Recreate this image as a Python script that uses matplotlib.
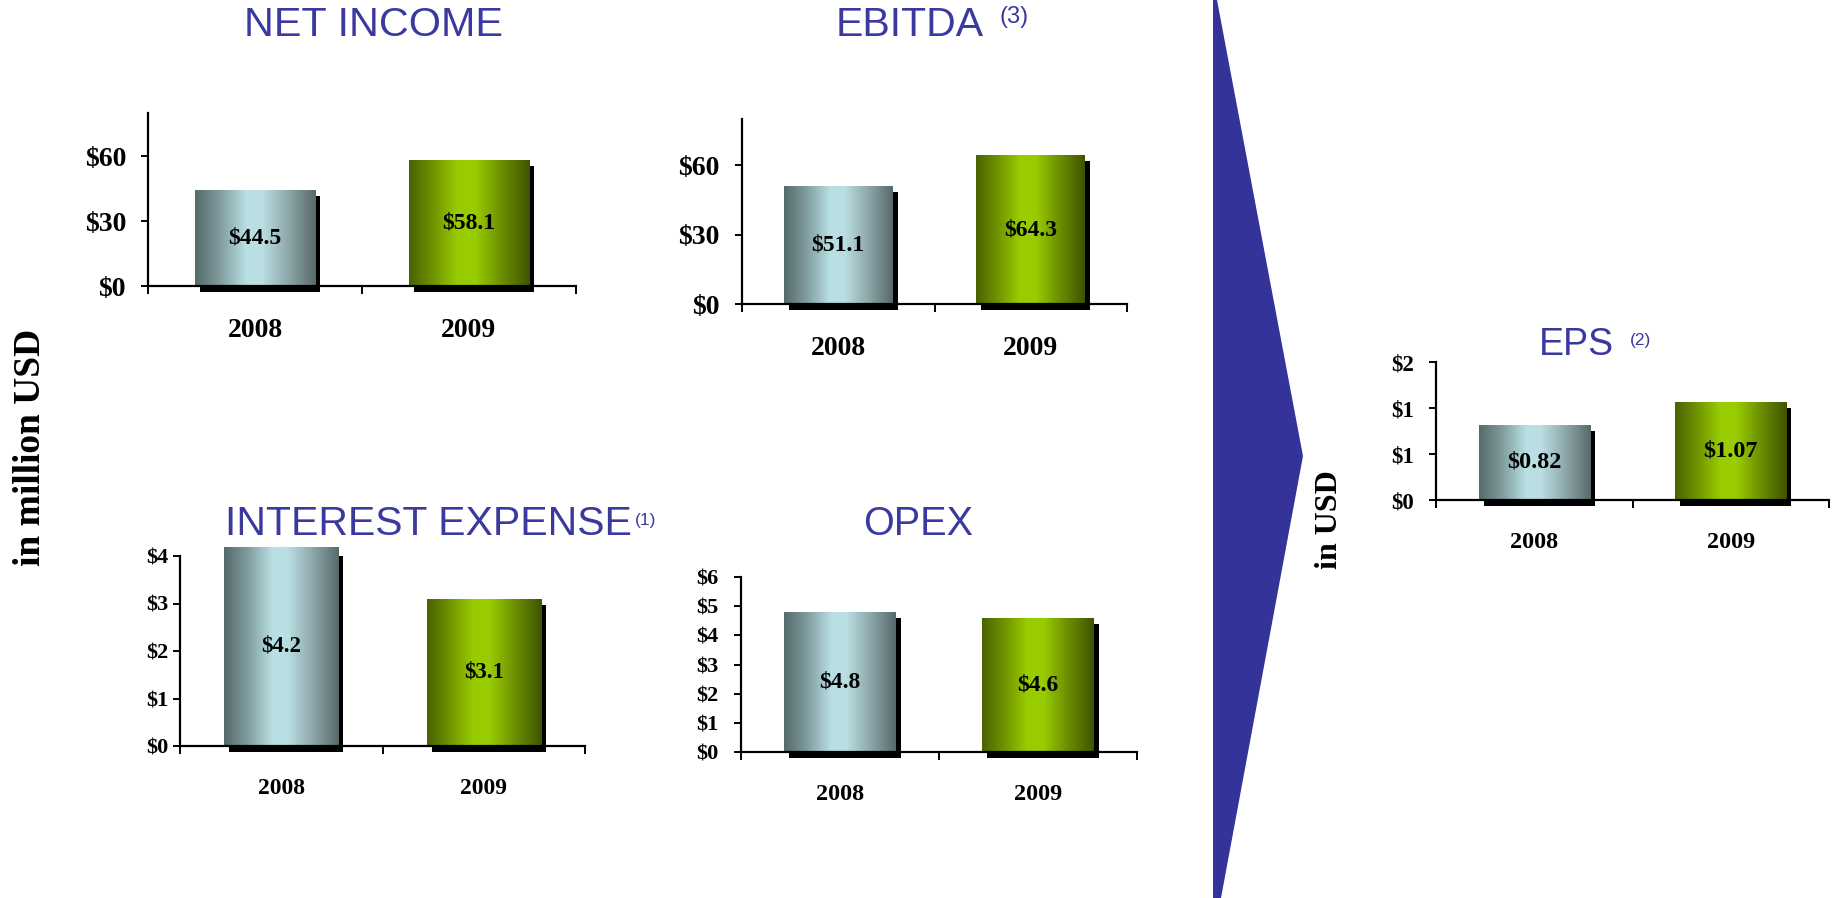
import numpy as np
import matplotlib
matplotlib.use("Agg")
import matplotlib.pyplot as plt
from matplotlib.patches import Rectangle, Polygon
from matplotlib.transforms import ScaledTranslation
from matplotlib.colors import LinearSegmentedColormap
from matplotlib.ticker import FixedLocator, FuncFormatter

# ---------------- data ----------------
years = ["2008", "2009"]
net_income = [44.5, 58.1]
ebitda = [51.1, 64.3]
interest_expense = [4.2, 3.1]
opex = [4.8, 4.6]
eps = [0.82, 1.07]

net_income_ticks = [0, 30, 60]
ebitda_ticks = [0, 30, 60]
interest_ticks = [0, 1, 2, 3, 4]
opex_ticks = [0, 1, 2, 3, 4, 5, 6]
eps_ticks = [0, 0.5, 1.0, 1.5]

# ---------------- style ----------------
W, H, DPI = 1835, 898, 100
SERIF = "Liberation Serif"
SANS = "Liberation Sans"
TITLE_COLOR = "#3a3a9e"
ARROW_COLOR = "#333399"

cmap_2008 = LinearSegmentedColormap.from_list(
    "c2008", [(0.0, "#556a6b"), (0.2, "#7f9a9c"), (0.42, "#b8dfe3"),
              (0.55, "#bbe0e4"), (0.75, "#93adb0"), (1.0, "#586a6b")])
cmap_2009 = LinearSegmentedColormap.from_list(
    "c2009", [(0.0, "#4a6200"), (0.2, "#6f9400"), (0.4, "#98cb00"),
              (0.55, "#99cc00"), (0.75, "#6e9300"), (1.0, "#405400")])
bar_cmaps = [cmap_2008, cmap_2009]

fig = plt.figure(figsize=(W / DPI, H / DPI), dpi=DPI)
fig.patch.set_facecolor("white")

# background overlay for arrow and free text (pixel coordinates)
bg = fig.add_axes([0, 0, 1, 1], zorder=0)
bg.set_xlim(0, W)
bg.set_ylim(H, 0)
bg.axis("off")
bg.add_patch(Polygon([(1213, 0), (1217, 0), (1303, 456), (1221, 898), (1213, 898)],
                     closed=True, facecolor=ARROW_COLOR, edgecolor="none"))
bg.text(30, 447, "in million USD", rotation=90, ha="center", va="center",
        fontfamily=SERIF, fontweight="bold", fontsize=27)
bg.text(1329, 520, "in USD", rotation=90, ha="center", va="center",
        fontfamily=SERIF, fontweight="bold", fontsize=23)


def bar_panel(left, right, top, zero, ymax, values, ticks, fmt_tick, fmt_val,
              ytick_fs, xtick_fs, val_fs, ypad):
    ext = 12  # px below zero line (room for shadow)
    ax = fig.add_axes([left / W, (H - zero - ext) / H, (right - left) / W,
                       (zero + ext - top) / H], zorder=2)
    ax.set_facecolor("none")
    x = np.arange(len(values))
    bars = ax.bar(x, values, width=0.565, color="none", edgecolor="none", zorder=2)
    shadow_tr = ax.transData + ScaledTranslation(5 / DPI, -6 / DPI, fig.dpi_scale_trans)
    grad = np.linspace(0, 1, 256).reshape(1, -1)
    for i, (p, v) in enumerate(zip(bars.patches, values)):
        x0, w, h = p.get_x(), p.get_width(), p.get_height()
        ax.add_patch(Rectangle((x0, 0), w, h, transform=shadow_tr,
                               facecolor="black", edgecolor="none", zorder=1))
        im = ax.imshow(grad, extent=[x0, x0 + w, 0, h], aspect="auto",
                       cmap=bar_cmaps[i], interpolation="bilinear", zorder=2)
        im.set_clip_path(p)
        ax.text(p.get_x() + w / 2, v / 2, fmt_val(v), ha="center", va="center",
                fontfamily=SERIF, fontweight="bold", fontsize=val_fs, zorder=4)
    ax.set_xlim(-0.5, len(values) - 0.5)
    ax.set_ylim(-ymax * ext / (zero - top), ymax)
    for s in ["top", "right"]:
        ax.spines[s].set_visible(False)
    ax.spines["bottom"].set_position(("data", 0))
    ax.spines["left"].set_bounds(0, ymax)
    for s in ["left", "bottom"]:
        ax.spines[s].set_linewidth(1.6)
        ax.spines[s].set_zorder(3)
    ax.yaxis.set_major_locator(FixedLocator(ticks))
    ax.yaxis.set_major_formatter(FuncFormatter(lambda v, pos: fmt_tick(v)))
    ax.tick_params(axis="y", direction="out", length=5, width=1.4, pad=ypad)
    ax.set_xticks(x)
    ax.set_xticklabels(years)
    ax.set_xticks(np.arange(len(values) + 1) - 0.5, minor=True)
    ax.tick_params(axis="x", which="major", length=0, pad=23)
    ax.tick_params(axis="x", which="minor", direction="out", length=6, width=1.4)
    for lab in ax.get_yticklabels():
        lab.set_fontfamily(SERIF)
        lab.set_fontweight("bold")
        lab.set_fontsize(ytick_fs)
    for lab in ax.get_xticklabels():
        lab.set_fontfamily(SERIF)
        lab.set_fontweight("bold")
        lab.set_fontsize(xtick_fs)
    return ax


int_fmt = lambda v: f"${int(np.floor(v + 0.5))}"
one_dec = lambda v: f"${v:.1f}"
two_dec = lambda v: f"${v:.2f}"

bar_panel(148, 576, 113, 286, 80, net_income, net_income_ticks, int_fmt, one_dec,
          20, 20, 17, 10.8)
bar_panel(742, 1127, 119, 304, 80, ebitda, ebitda_ticks, int_fmt, one_dec,
          20, 20, 17, 11.5)
bar_panel(180, 585, 556, 746, 4, interest_expense, interest_ticks, int_fmt, one_dec,
          16, 17, 16.5, 3.5)
bar_panel(741, 1137, 577, 752, 6, opex, opex_ticks, int_fmt, one_dec,
          16, 17.5, 17, 11.5)
bar_panel(1436, 1829, 362, 500, 1.5, eps, eps_ticks, int_fmt, two_dec,
          16.5, 17.5, 17.5, 11)

# ---------------- titles ----------------
def title(xc, ybase, text, fs):
    bg.text(xc, ybase, text, ha="center", va="baseline", color=TITLE_COLOR,
            fontfamily=SANS, fontsize=fs)

def sup(xl, ytop, text, fs):
    bg.text(xl, ytop, text, ha="left", va="top", color=TITLE_COLOR,
            fontfamily=SANS, fontsize=fs)

title(373, 36, "NET INCOME", 29.8)
title(910, 36, "EBITDA", 29.5)
sup(999, 6, "(3)", 17)
title(428, 535, "INTEREST EXPENSE", 29.5)
sup(635, 513, "(1)", 12.5)
title(918, 535, "OPEX", 28.5)
title(1576, 355, "EPS", 27)
sup(1630, 333, "(2)", 12.5)

fig.savefig("out.png", dpi=DPI, facecolor="white")
